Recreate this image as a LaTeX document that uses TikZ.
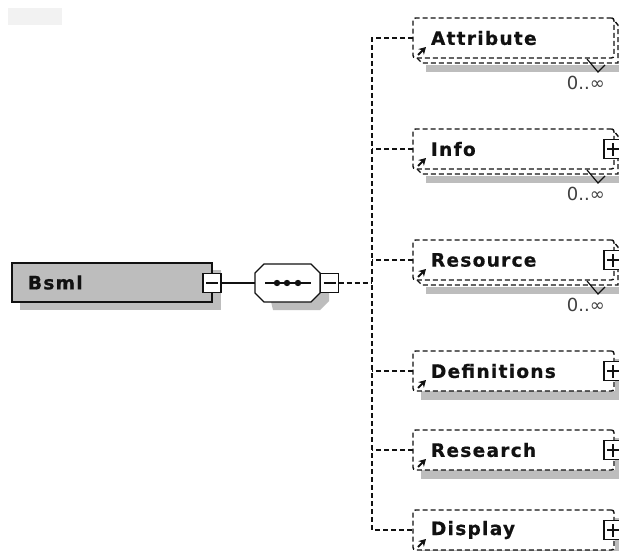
\documentclass[tikz,border=0pt]{standalone}
\usepackage{fontspec}
\setmainfont{DejaVu Sans}
\newfontfamily\boxfont[LetterSpace=7,FakeBold=0.6]{DejaVu Sans Bold}
\usetikzlibrary{arrows.meta}
\definecolor{shade}{HTML}{BDBDBD}
\definecolor{ink}{HTML}{111111}
\tikzset{
  x=1pt,y=-1pt,
  dashline/.style={draw=ink,line width=1.4pt,dash pattern=on 5pt off 3pt},
  solidline/.style={draw=ink,line width=1.4pt},
  shadowfill/.style={fill=shade,draw=none},
  elbox/.style={dashline,rounded corners=2.5pt,fill=white,minimum width=201pt,minimum height=40pt,
    anchor=north west,outer sep=0pt,inner sep=0pt,inner xsep=18pt,text width=165pt,align=left,
    font=\boxfont\fontsize{18.5}{18.5}\selectfont,text=ink},
  btn/.style={solidline,fill=white,minimum width=18pt,minimum height=19pt,inner sep=0pt,outer sep=0pt,anchor=center},
  plusbtn/.style={btn,path picture={
    \draw[solidline] ([xshift=3pt]path picture bounding box.west) -- ([xshift=-3pt]path picture bounding box.east);
    \draw[solidline] ([yshift=3pt]path picture bounding box.south) -- ([yshift=-3pt]path picture bounding box.north);}},
  minusbtn/.style={btn,path picture={
    \draw[solidline] ([xshift=3pt]path picture bounding box.west) -- ([xshift=-3pt]path picture bounding box.east);}},
  refarrow/.style={draw=ink,line width=2pt,-{Stealth[length=7pt,width=8pt]}},
  card/.style={font=\fontsize{18}{18}\selectfont,text=black!75,inner sep=0pt,anchor=north east},
}
\begin{document}
\begin{tikzpicture}
\useasboundingbox (0,0) rectangle (619,551);
\clip (0,0) rectangle (619,551);
\fill[white] (0,0) rectangle (619,551);
\fill[black!5] (8,8) rectangle (62,25);
% shadows
\fill[shadowfill] (20,270) rectangle (221,310);
\fill[shadowfill] (264,272) -- (320,272) -- (329,281) -- (329,301) -- (320,310) -- (273,310) -- cycle;
\fill[shadowfill] (426,65) rectangle (619,72);
\fill[shadowfill] (426,176) rectangle (619,183);
\fill[shadowfill] (426,287) rectangle (619,294);
\fill[shadowfill] (421,391) rectangle (619,400);
\fill[shadowfill] (421,470) rectangle (619,479);
\fill[shadowfill] (421,549) rectangle (619,551);
\fill[shadowfill] (615,359) rectangle (619,400);
\fill[shadowfill] (615,438) rectangle (619,479);
\fill[shadowfill] (615,518) rectangle (619,551);
% left nodes
\node[draw=ink,line width=1.4pt,fill=shade,minimum width=200pt,minimum height=39pt,anchor=north west,
  inner sep=0pt,inner xsep=16pt,outer sep=0pt,text width=168pt,align=left,
  font=\boxfont\fontsize{18.5}{18.5}\selectfont,text=ink] (bsml) at (12,263) {Bsml};
\node[minusbtn] (bm) at (212,283) {};
\node[minimum width=65pt,minimum height=38pt,inner sep=0pt,outer sep=0pt] (seq) at (287.5,283) {};
\draw[solidline,fill=white,line join=round]
  ([xshift=9pt]seq.north west) -- ([xshift=-9pt]seq.north east) -- ([yshift=-9pt]seq.north east)
  -- ([yshift=9pt]seq.south east) -- ([xshift=-9pt]seq.south east) -- ([xshift=9pt]seq.south west)
  -- ([yshift=9pt]seq.south west) -- ([yshift=-9pt]seq.north west) -- cycle;
\node[minusbtn] (sm) at (329.5,283) {};
\coordinate (seqa) at (265,283);
\coordinate (seqb) at (311,283);
\draw[solidline] (seqa) -- (seqb);
\foreach \dx in {277,287,298} \fill[ink] (\dx,283) circle (3.2pt);
\draw[solidline] (bm.east) -- (seq.west);
% stacked second layers
\foreach \ty in {18,129,240} {
  \draw[dashline] (417,\ty+40) -- (422,\ty+45) -- (618,\ty+45) -- (618,\ty+7) -- (612,\ty);
}
% element boxes
\node[elbox] (attr) at (413,18) {Attribute};
\node[elbox] (info) at (413,129) {Info};
\node[elbox] (reso) at (413,240) {Resource};
\node[elbox] (defs) at (413,351) {Definitions};
\node[elbox] (rese) at (413,430) {Research};
\node[elbox] (disp) at (413,510) {Display};
% connectors
\coordinate (trunk) at (372,283);
\draw[dashline] (sm.east) -- (trunk);
\draw[dashline] (attr.west) -- (attr.west -| trunk) -- (disp.west -| trunk) -- (disp.west);
\foreach \n in {info,reso,defs,rese} \draw[dashline] (\n.west) -- (\n.west -| trunk);
% reference arrows
\foreach \n in {attr,info,reso,defs,rese,disp}
  \draw[refarrow] ([shift={(5pt,3pt)}]\n.south west) -- ([shift={(13pt,11pt)}]\n.south west);
% expand buttons
\foreach \n in {info,reso,defs,rese,disp}
  \node[plusbtn] at ([xshift=-1pt]\n.east) {};
% cardinality
\foreach \n in {attr,info,reso} {
  \draw[draw=ink,line width=1.2pt] ([shift={(174pt,-1pt)}]\n.south west) -- ([shift={(185pt,-14pt)}]\n.south west) -- ([shift={(192pt,-7pt)}]\n.south west);
  \node[card] at ([shift={(192pt,-18pt)}]\n.south west) {0..∞};
}
\end{tikzpicture}
\end{document}
